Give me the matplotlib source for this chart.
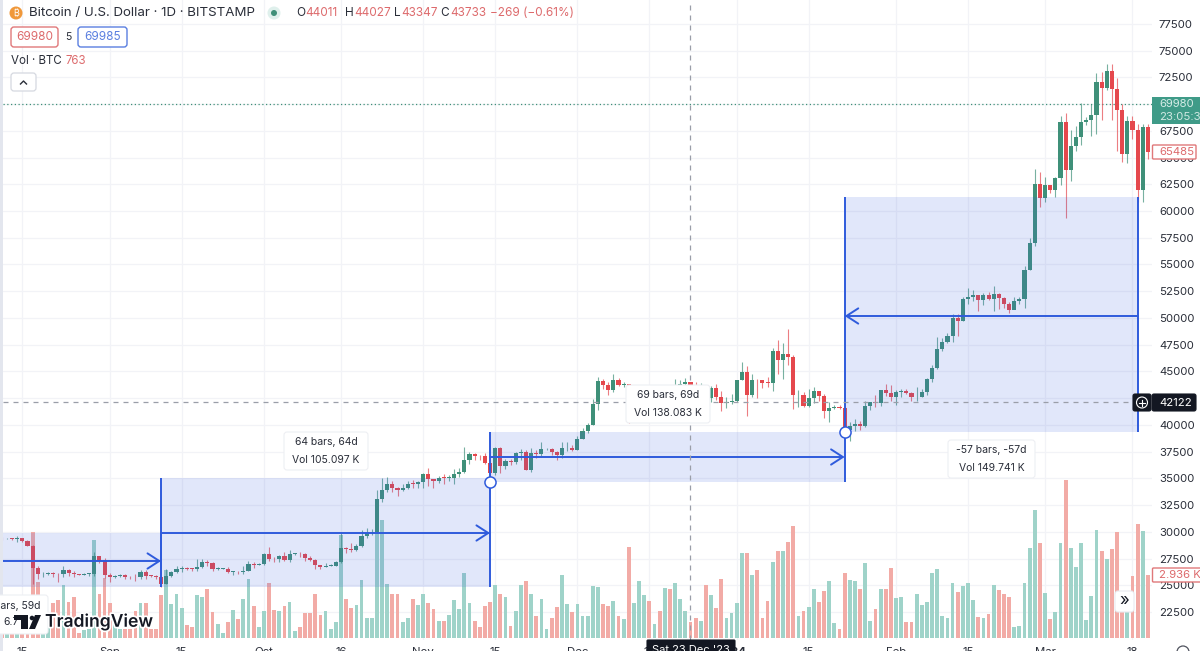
import matplotlib
matplotlib.use('Agg')
import matplotlib.pyplot as plt
import matplotlib.patheffects as pe
from matplotlib.patches import Rectangle, FancyBboxPatch, Circle, Polygon

plt.rcParams['font.family'] = ['Inter', 'DejaVu Sans']

# daily closes, Aug 11 2023 -> Mar 21 2024
closes = [
    29400, 29420, 29300, 29430, 29170, 28720, 26620, 26040, 26100, 26190, 26120, 26060, 26440, 26160, 26050, 26010, 26090, 26100, 27720, 27300, 25940,
    25800, 25870, 25970, 25820, 25780, 25750, 26240, 25900, 25890, 25840, 25160, 25850, 26220, 26530, 26600, 26570, 26530, 26760, 27210, 27130, 26570, 26580, 26580, 26250, 26300, 26220, 26370, 27030, 26910, 26970,
    27990, 27500, 27430, 27790, 27410, 27940, 27960, 27930, 27590, 27390, 26880, 26760, 26860, 26860, 27160, 28520, 28400, 28330, 28720, 29670, 29910, 29990, 33080, 33900, 34500, 34150, 33900, 34080, 34530, 34490, 34660,
    35420, 34930, 34720, 35080, 35040, 35050, 35420, 35640, 36690, 37300, 37130, 37060, 36490, 35550, 37880, 36160, 36600, 36580, 37380, 37470, 35810, 37420, 37290, 37720, 37790, 37470, 37240, 37830, 37850, 37710,
    38690, 39470, 39970, 41980, 44080, 43770, 43290, 44180, 43720, 43790, 41240, 41480, 42880, 43020, 41930, 42240, 41360, 42660, 42270, 43660, 43860, 44011, 43733, 43010, 43590, 42510, 43440, 42580, 42070, 42140, 42280,
    44180, 44950, 42850, 44170, 44160, 43970, 43930, 46960, 46110, 46650, 46340, 42780, 42850, 41730, 42510, 43140, 42740, 41280, 41620, 41680, 41580, 39570, 39890, 40090, 39940, 41820, 42120, 42030, 43300, 42950, 42580,
    43080, 43190, 42990, 42580, 42660, 43090, 44340, 45300, 47140, 47770, 48290, 49960, 49720, 51810, 51920, 52150, 51660, 52120, 51780, 52260, 51850, 51300, 50750, 51570, 51730, 54490, 57050, 62500, 61170,
    62430, 61990, 63130, 68330, 63800, 66110, 66930, 68300, 68500, 68960, 72100, 71480, 73080, 71390, 69400, 65300, 68390, 67610, 61940, 67840, 65485,
]
opens = [29430] + closes[:-1]
highs = [
    29530, 29450, 29470, 29660, 29480, 29230, 28780, 26820, 26270, 26300, 26260, 26130, 26800, 26550, 26310, 26110, 26170, 26210, 28130, 27760, 27570,
    26130, 25980, 26120, 26090, 25860, 26030, 26420, 26430, 25940, 25960, 25880, 26550, 26380, 26850, 26850, 26760, 26620, 27430, 27490, 27380, 27160, 26730, 26620, 26720, 26400, 26390, 26830, 27280, 27210, 27080,
    28050, 28580, 27650, 27840, 28120, 28280, 28030, 28100, 28000, 27730, 27480, 26940, 27100, 26970, 27300, 30000, 28620, 28980, 28900, 30200, 30330, 30250, 33950, 35000, 35100, 34800, 34240, 34470, 34720, 34860, 34720,
    35560, 35970, 34930, 35260, 35380, 35290, 35900, 35990, 37960, 37510, 37400, 37230, 37400, 36770, 37980, 37970, 36860, 36840, 37500, 37760, 37660, 37880, 37630, 38400, 37890, 37830, 37580, 38390, 38400, 38170,
    38980, 39700, 40200, 42420, 44490, 44300, 44040, 44720, 44370, 44040, 43800, 42100, 43440, 43420, 43090, 42750, 42600, 42760, 43490, 44280, 44240, 44400, 44027, 44040, 43940, 43670, 43690, 43820, 43140, 42620, 42890,
    44220, 45880, 45500, 44740, 44280, 44190, 44480, 47200, 47900, 47700, 48990, 46500, 43250, 43100, 43400, 43570, 43190, 42900, 42130, 41850, 41880, 41690, 40280, 40550, 40350, 42230, 42190, 42850, 43300, 43870, 43730,
    43290, 43400, 43370, 43120, 43520, 43400, 44370, 45600, 48180, 48160, 48580, 50360, 50370, 52000, 52820, 52580, 52160, 52350, 52470, 52970, 52370, 52000, 51520, 51950, 51940, 54900, 57500, 63900, 63600,
    63200, 62400, 63200, 68900, 69170, 67600, 67900, 70120, 68800, 70000, 72860, 72950, 73700, 73750, 72400, 70000, 68900, 68900, 68100, 68100, 68100,
]
lows = [
    29250, 29360, 29260, 29110, 29060, 28700, 25170, 25620, 25800, 26000, 25810, 25300, 25800, 25860, 25770, 25970, 25980, 25850, 25880, 27060, 25660,
    25350, 25720, 25800, 25600, 25570, 25380, 25620, 25650, 25800, 25590, 24900, 25130, 25760, 26130, 26230, 26470, 26400, 26380, 26680, 26840, 26360, 26480, 26500, 26140, 25990, 26110, 26110, 26320, 26660, 26880,
    26950, 27320, 27150, 27210, 27330, 27170, 27860, 27700, 27290, 27300, 26550, 26560, 26700, 26820, 26800, 27120, 28080, 28130, 28200, 28580, 29470, 29680, 29880, 32800, 33700, 33710, 33400, 33840, 34050, 34070, 34080,
    34100, 34330, 34110, 34580, 34530, 34720, 34520, 35110, 35530, 36330, 36720, 36750, 36350, 35080, 35370, 35550, 35900, 36220, 36380, 36730, 35770, 35640, 36890, 37100, 37650, 37180, 36740, 36880, 37610, 37590,
    37620, 38650, 39290, 39970, 41400, 43370, 42820, 43110, 43600, 43590, 40230, 40680, 40640, 41860, 41660, 41930, 41260, 40550, 41810, 42230, 43320, 43430, 43347, 42600, 42730, 41640, 42120, 42300, 41320, 41550, 41970,
    42180, 44160, 40800, 42630, 42480, 43420, 43590, 43200, 44800, 44300, 45600, 41500, 41700, 41700, 41700, 42050, 42200, 40650, 40300, 41450, 41500, 39420, 38500, 39470, 39490, 39820, 41400, 41650, 41800, 42700, 42270,
    41860, 42570, 42870, 42260, 42270, 42580, 42780, 44000, 45230, 46880, 47650, 47750, 48340, 49690, 51300, 51600, 50650, 51200, 51700, 50640, 50850, 50900, 50500, 50800, 51290, 50950, 54450, 56700, 60400,
    60800, 61650, 61300, 62400, 59350, 62800, 65600, 66200, 68000, 67000, 67190, 68500, 71300, 68500, 65600, 64600, 64500, 66700, 60800, 60800, 64900,
]
# volume in K BTC
volumes = [
    0.39, 0.35, 0.35, 0.35, 0.35, 0.85, 4.94, 2.62, 1.0, 1.16, 1.62, 1.77, 2.47, 1.67, 1.93, 0.26, 0.39, 0.42, 4.55, 2.08, 2.82, 1.62, 0.85, 0.46, 0.46, 0.46,
    1.28, 1.65, 1.65, 0.43, 0.43, 2.01, 3.19, 1.59, 2.08, 1.39, 0.62, 0.51, 2.01, 1.9, 2.27, 1.23, 0.66, 0.26, 0.77, 1.31, 0.88, 1.85, 2.75, 1.51, 0.54, 1.27,
    2.58, 1.31, 1.27, 1.51, 1.71, 0.35, 0.54, 1.19, 1.19, 2.05, 1.08, 1.28, 0.42, 0.77, 4.78, 1.85, 1.39, 1.54, 2.73, 0.93, 0.93, 6.48, 5.48, 2.52, 2.08, 2.08,
    0.77, 0.96, 1.85, 1.57, 2.08, 1.62, 1.37, 0.80, 0.80, 1.08, 1.77, 1.36, 3.01, 1.62, 0.82, 0.54, 1.51, 1.71, 2.47, 2.08, 1.90, 0.60, 1.25, 2.47, 2.64, 2.05,
    1.03, 1.81, 0.42, 0.96, 1.47, 2.92, 1.59, 1.23, 1.59, 1.03, 1.03, 2.44, 2.38, 1.59, 1.51, 1.73, 1.03, 0.88, 4.24, 1.62, 2.64, 2.01, 1.74, 0.69, 1.25, 2.33,
    2.27, 2.55, 1.85, 1.25, 0.77, 0.93, 0.82, 2.47, 2.02, 1.40, 2.75, 0.93, 1.19, 1.62, 3.94, 3.98, 2.92, 3.16, 0.97, 1.74, 3.53, 4.03, 4.03, 4.48, 5.20, 1.05,
    1.27, 1.47, 2.31, 1.67, 2.21, 2.64, 0.74, 0.45, 3.01, 2.73, 2.64, 2.27, 3.50, 0.80, 1.36, 2.31, 2.28, 3.27, 1.88, 1.90, 0.76, 0.77, 2.04, 1.54, 1.67, 3.04,
    3.24, 1.05, 0.96, 2.59, 2.13, 2.45, 2.58, 1.77, 0.99, 0.93, 1.13, 2.47, 2.24, 2.04, 1.93, 0.51, 0.60, 2.58, 4.20, 5.97, 4.40, 2.11, 0.88, 1.23, 4.41, 7.36,
    4.21, 3.30, 4.41, 0.85, 1.99, 5.02, 4.04, 3.66, 4.12, 4.94, 1.93, 1.47, 2.89, 5.29, 4.97, 2.936,
]

date_ticks = [4, 21, 35, 51, 66, 82, 96, 112, 126, 143, 157, 174, 188, 203, 220]
date_labels = ['15', 'Sep', '15', 'Oct', '16', 'Nov', '15', 'Dec', '15', "'24", '15', 'Feb', '15', 'Mar', '18']
price_ticks = list(range(22500, 77501, 2500))

# date range drawings: start bar, end bar, low, high, level of the arrow
ranges_start = [-28, 31, 95, 164]
ranges_end = [31, 95, 164, 221]
ranges_low = [24860, 24860, 34673, 39346]
ranges_high = [29906, 35047, 39346, 61309]
ranges_mid = [27290, 29906, 37009, 50187]

up_col = '#3f9079'
down_col = '#e5484d'
vol_up = '#9fd3c9'
vol_down = '#f2aba6'
tool_blue = '#2f5bdc'
grid_col = '#f2f3f7'
text_col = '#2a2e39'
red_txt = '#dd6a6c'

fig = plt.figure(figsize=(12, 6.51), dpi=100, facecolor='white')
pos = [3 / 1200, 11 / 651, 1149 / 1200, 640 / 651]

# volume pane sits underneath, it also carries the grid
ax_vol = fig.add_axes(pos, zorder=1)
ax = fig.add_axes(pos, zorder=2, sharex=ax_vol)
ax.patch.set_visible(False)

days = list(range(len(closes)))
ax.set_xlim(0.237, 223.8)
ax.set_ylim(19906, 79720)
ax_vol.set_ylim(-0.07, 29.56)

vol_cols = [vol_up if c >= o else vol_down for o, c in zip(opens, closes)]
ax_vol.bar(days, volumes, width=0.74, color=vol_cols, zorder=3)
ax_vol.hlines(price_ticks, 0, 224, transform=ax.transData, color=grid_col, lw=0.9, zorder=1)
ax_vol.vlines(date_ticks, -1, 40, color=grid_col, lw=0.9, zorder=1)
ax_vol.tick_params(left=False, bottom=False, labelleft=False, labelbottom=False)
for s in ax_vol.spines.values():
    s.set_visible(False)

# candles
cols = [up_col if c >= o else down_col for o, c in zip(opens, closes)]
bottoms = [min(o, c) for o, c in zip(opens, closes)]
sizes = [max(abs(c - o), 60) for o, c in zip(opens, closes)]
ax.vlines(days, lows, highs, color=cols, lw=0.8, alpha=0.7, zorder=3)
ax.bar(days, sizes, bottom=bottoms, width=0.8, color=cols, zorder=4)

# date range tools
for s, e, lo, hi, mid in zip(ranges_start, ranges_end, ranges_low, ranges_high, ranges_mid):
    ax.add_patch(Rectangle((s, lo), e - s, hi - lo, facecolor='#3a5fe0', alpha=0.15, lw=0, zorder=5))
    ax.vlines([s, e], lo, hi, color=tool_blue, lw=1.4, zorder=6)
    ax.annotate('', xy=(s if s == 164 else e, mid), xytext=(e if s == 164 else s, mid),
                arrowprops=dict(arrowstyle='->,head_length=0.85,head_width=0.55', color=tool_blue, lw=1.4,
                                shrinkA=0, shrinkB=0), zorder=6)

# crosshair and last price line
ax.axhline(42122, color='#9a9ea8', lw=0.9, ls=(0, (4, 4)), zorder=7)
ax.axvline(134, color='#9a9ea8', lw=0.9, ls=(0, (4, 4)), zorder=7)
ax.axhline(69980, color='#3f9079', lw=0.9, ls=(0, (1, 2)), zorder=2)

# range end handles
ax.plot([95, 164], [34673, 39346], 'o', ms=8, mfc='white', mec=tool_blue, mew=1.1, zorder=8)

ax.yaxis.tick_right()
ax.set_yticks(price_ticks)
ax.set_xticks(date_ticks)
ax.set_xticklabels(date_labels)
ax.tick_params(axis='y', length=0, pad=5, labelsize=8.2, labelcolor=text_col)
ax.tick_params(axis='x', length=0, pad=5, labelsize=8.2, labelcolor=text_col)
ax.get_xticklabels()[9].set_fontweight('bold')
# these two sit fully behind the price labels
for t, p in zip(ax.get_yticklabels(), price_ticks):
    if p in (42500, 70000):
        t.set_visible(False)
for s in ax.spines.values():
    s.set_visible(False)

# everything else goes on a pixel overlay
ov = fig.add_axes([0, 0, 1, 1], zorder=5)
ov.set_xlim(0, 1200)
ov.set_ylim(651, 0)
ov.axis('off')

ov.add_patch(Rectangle((0, 0), 3, 651, facecolor='#e3e6ee', lw=0))


def box(x0, y0, x1, y1, face='white', edge='#edeff3', lw=0.8, rad=3, z=3):
    ov.add_patch(FancyBboxPatch((x0 + rad, y0 + rad), x1 - x0 - 2 * rad, y1 - y0 - 2 * rad,
                                boxstyle='round,pad=%d,rounding_size=%d' % (rad, rad),
                                facecolor=face, edgecolor=edge, lw=lw, zorder=z))


def label(x, y, s, size=8.2, color=text_col, ha='left', **kw):
    return ov.text(x, y, s, fontsize=size, color=color, ha=ha, va='center', zorder=6, **kw)


# header
ov.add_patch(Circle((16, 13), 6.5, facecolor='#f0983a', lw=0, zorder=4))
label(16, 13.3, '₿', size=6.5, color='white', ha='center')
label(29, 13, 'Bitcoin / U.S. Dollar · 1D · BITSTAMP', size=9.6)
ov.add_patch(Circle((274, 13), 6.5, facecolor='#dff0ec', lw=0, zorder=4))
ov.add_patch(Circle((274, 13), 3, facecolor='#3f9079', lw=0, zorder=5))
for x, s, c in [(296, 'O', text_col), (305, '44011', red_txt), (345, 'H', text_col), (354, '44027', red_txt),
                (394, 'L', text_col), (401, '43347', red_txt), (440, 'C', text_col), (450, '43733', red_txt),
                (490, '−269 (−0.61%)', red_txt)]:
    label(x, 13, s, size=8.5, color=c)

box(11, 27, 58, 47, edge='#e0787a', lw=1)
label(34.5, 37, '69980', size=8.5, color=red_txt, ha='center')
label(68, 37, '5', size=7.5, ha='center')
box(78, 27, 127, 47, edge='#5a7fe0', lw=1)
label(102.5, 37, '69985', size=8.5, color='#5a7fe0', ha='center')
label(11, 61, 'Vol · BTC', size=8.3)
label(65, 61, '763', size=8.3, color=red_txt)
box(11, 73, 36, 91, edge='#d5d8e0', lw=0.9)
ov.plot([20.5, 23.5, 26.5], [84, 81, 84], color=text_col, lw=1, zorder=6)

# range labels
for x0, y0, x1, y1, l1, l2 in [(284, 432, 368, 470, '64 bars, 64d', 'Vol 105.097 K'),
                               (626, 385, 710, 423, '69 bars, 69d', 'Vol 138.083 K'),
                               (948, 440, 1035, 478, '-57 bars, -57d', 'Vol 149.741 K')]:
    box(x0, y0, x1, y1, z=5)
    label((x0 + x1) / 2, y0 + 10, l1, size=7.5, ha='center')
    label((x0 + x1) / 2, y0 + 28, l2, size=7.5, ha='center')
box(-20, 595, 48, 634, z=5)
label(40, 606, 'bars, 59d', size=7.5, ha='right')
label(3, 622, '6.7', size=7.5)

# TradingView logo
ov.add_patch(Rectangle((14, 615), 14, 4.5, facecolor='#131722', lw=0, zorder=7))
ov.add_patch(Rectangle((21, 615), 7, 14, facecolor='#131722', lw=0, zorder=7))
ov.add_patch(Circle((32, 618), 2.3, facecolor='#131722', lw=0, zorder=7))
ov.add_patch(Polygon([[29, 629], [35, 615], [41, 615], [35, 629]], facecolor='#131722', lw=0, zorder=7))
logo = label(45, 622, 'TradingView', size=12.6, color='#131722', fontweight='semibold')
logo.set_path_effects([pe.withStroke(linewidth=2.5, foreground='white')])

# right hand price labels
ov.add_patch(Rectangle((1152, 97), 48, 27, facecolor='#3f9b88', lw=0, zorder=5))
label(1159, 104, '69980', color='#d6ece7')
label(1159, 116.5, '23:05:35', color='#cfe8e2')
box(1152.5, 145, 1196, 159, edge='#e0787a', lw=1, rad=1, z=5)
label(1159, 152, '65485', color=red_txt)
box(1133, 394, 1151, 411, face='#131722', edge='#131722', rad=2, z=5)
ov.add_patch(Circle((1142, 402.5), 5.5, facecolor='none', edgecolor='white', lw=0.8, zorder=6))
ov.plot([1139, 1145], [402.5, 402.5], color='white', lw=0.8, zorder=6)
ov.plot([1142, 1142], [399.5, 405.5], color='white', lw=0.8, zorder=6)
box(1152, 394, 1196, 411, face='#131722', edge='#131722', rad=2, z=5)
label(1159, 402.5, '42122', color='white')
box(1152.5, 568, 1204, 582, edge='#e0787a', lw=1, rad=1, z=5)
label(1159, 575, '2.936 K', color=red_txt)

# scroll button, settings icon and crosshair date
box(1115, 591, 1134, 612, edge='#e8eaef', z=5)
label(1124.5, 601, '»', size=12, ha='center', color='#131722')
ov.add_patch(Circle((1183, 652), 6, facecolor='none', edgecolor='#50535e', lw=0.9, zorder=5))
box(647, 640, 735, 660, face='#131722', edge='#131722', rad=1, z=5)
label(691, 650, "Sat 23 Dec '23", size=8, color='white', ha='center')

fig.savefig('out.png', dpi=100)
